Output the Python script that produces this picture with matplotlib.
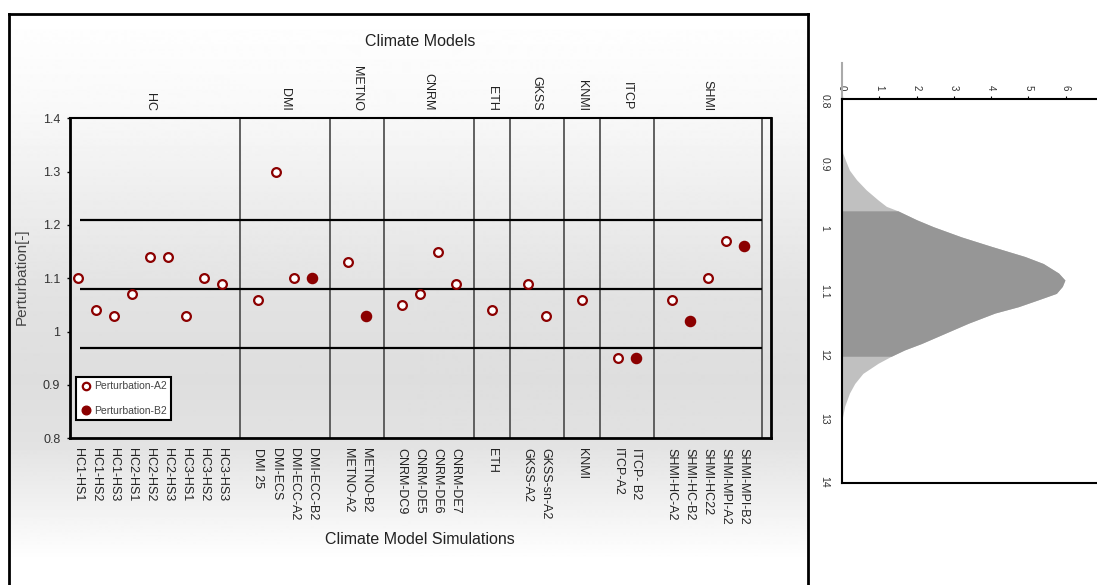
import numpy as np
import matplotlib.pyplot as plt

plt.rcParams['font.family'] = ['Liberation Sans', 'DejaVu Sans']

# =========================
# DATA
# =========================
groups = ['HC', 'DMI', 'METNO', 'CNRM', 'ETH', 'GKSS', 'KNMI', 'ITCP', 'SHMI']
group_sizes = [9, 4, 2, 4, 1, 2, 1, 2, 5]

simulations = [
    'HC1-HS1', 'HC1-HS2', 'HC1-HS3', 'HC2-HS1', 'HC2-HS2', 'HC2-HS3',
    'HC3-HS1', 'HC3-HS2', 'HC3-HS3',
    'DMI 25', 'DMI-ECS', 'DMI-ECC-A2', 'DMI-ECC-B2',
    'METNO-A2', 'METNO-B2',
    'CNRM-DC9', 'CNRM-DE5', 'CNRM-DE6', 'CNRM-DE7',
    'ETH',
    'GKSS-A2', 'GKSS-sn-A2',
    'KNMI',
    'ITCP-A2', 'ITCP- B2',
    'SHMI-HC-A2', 'SHMI-HC-B2', 'SHMI-HC22', 'SHMI-MPI-A2', 'SHMI-MPI-B2',
]
perturbation = [
    1.10, 1.04, 1.03, 1.07, 1.14, 1.14, 1.03, 1.10, 1.09,
    1.06, 1.30, 1.10, 1.10,
    1.13, 1.03,
    1.05, 1.07, 1.15, 1.09,
    1.04,
    1.09, 1.03,
    1.06,
    0.95, 0.95,
    1.06, 1.02, 1.10, 1.17, 1.16,
]
scenario = [
    'A2', 'A2', 'A2', 'A2', 'A2', 'A2', 'A2', 'A2', 'A2',
    'A2', 'A2', 'A2', 'B2',
    'A2', 'B2',
    'A2', 'A2', 'A2', 'A2',
    'A2',
    'A2', 'A2',
    'A2',
    'A2', 'B2',
    'A2', 'B2', 'A2', 'A2', 'B2',
]

ref_levels = [0.97, 1.08, 1.21]

# densidade (painel da direita)
dens_x = [0.800, 0.861, 0.882, 0.893, 0.909, 0.924, 0.940, 0.956, 0.966, 0.973,
          0.987, 0.998, 1.014, 1.029, 1.045, 1.056, 1.071, 1.082, 1.092, 1.103,
          1.113, 1.124, 1.134, 1.150, 1.166, 1.182, 1.192, 1.202, 1.213, 1.229,
          1.245, 1.260, 1.281, 1.302, 1.400]
dens_y = [0, 0, 0.02, 0.09, 0.2, 0.39, 0.65, 0.97, 1.19, 1.5,
          2.0, 2.45, 3.2, 4.01, 4.91, 5.40, 5.81, 5.98, 5.91, 5.75,
          5.27, 4.73, 4.1, 3.39, 2.76, 2.13, 1.68, 1.32, 0.97, 0.56,
          0.34, 0.2, 0.07, 0, 0]
band = (0.973, 1.202)

y_ticks = [0.8, 0.9, 1.0, 1.1, 1.2, 1.3, 1.4]
dens_ticks = [0, 1, 2, 3, 4, 5, 6]
dens_y_ticks = [0.8, 0.9, 1.0, 1.1, 1.2, 1.3, 1.4]
dens_y_labels = ['0.8', '0.9', '1', '1.1', '12', '13', '14']

# =========================
# LAYOUT
# =========================
W, H = 1097, 585
def fx(px):
    return px / W
def fy(py):
    return 1 - py / H

fig = plt.figure(figsize=(W / 100, H / 100), dpi=100)

# fundo com gradiente dentro da moldura
bg = fig.add_axes([fx(9), 0, fx(808) - fx(9), 1 - 14 / H], zorder=-10)
rows = np.arange(14, H + 1)
grad = np.interp(rows, [14, 110, 200, 300, 380, 440, 500, 560, H],
                 [1.0, 0.975, 0.93, 0.885, 0.87, 0.885, 0.94, 1.0, 1.0])
bg.imshow(grad[:, None], aspect='auto', cmap='gray', vmin=0, vmax=1,
          extent=[0, 1, 0, 1])
bg.set_xticks([])
bg.set_yticks([])
bg.spines['bottom'].set_visible(False)
for s in ['top', 'left', 'right']:
    bg.spines[s].set_linewidth(2)

# posições: um espaço vazio entre grupos
pos = []
centres = []
separators = []
s = 0
for n in group_sizes:
    block = list(range(s, s + n))
    pos += block
    centres.append(np.mean(block))
    separators.append(s + n)
    s += n + 1
pos = np.array(pos)
perturbation = np.array(perturbation)
scenario = np.array(scenario)

ax = fig.add_axes([fx(70), fy(438.3), fx(771) - fx(70), 320 / H])
ax.patch.set_alpha(0)
ax.set_xlim(-0.43, 38.52)
ax.set_ylim(0.8, 1.4)

ax.vlines(separators, 0.8, 1.4, colors='#555555', lw=1.3, zorder=1)
ax.hlines(ref_levels, 0.13, separators[-1], colors='black', lw=1.6, zorder=1)

a2 = scenario == 'A2'
ax.plot(pos[a2], perturbation[a2], 'o', ms=6.3, mfc='white', mec='#8b0000',
        mew=1.6, ls='none', label='Perturbation-A2', zorder=3)
ax.plot(pos[~a2], perturbation[~a2], 'o', ms=7.3, color='#8b0000',
        ls='none', label='Perturbation-B2', zorder=3)

ax.set_xticks(pos)
ax.set_xticklabels(simulations, rotation=-90, fontsize=9, color='#222222')
ax.tick_params(axis='x', length=0, pad=7)
ax.set_yticks(y_ticks)
ax.set_yticklabels([f'{v:g}' for v in y_ticks], fontsize=9, color='#333333')
ax.tick_params(axis='y', length=2, width=1, pad=5)

for s in ['left', 'bottom', 'right']:
    ax.spines[s].set_linewidth(2)
ax.spines['top'].set_linewidth(1.5)

for g, c in zip(groups, centres):
    ax.text(c, 1.414, g, rotation=-90, ha='center', va='bottom',
            fontsize=9, color='#222222', clip_on=False)

leg = ax.legend(loc='lower left', bbox_to_anchor=(0.0086, 0.057),
                fontsize=7.5, handlelength=1.2, handletextpad=0.1,
                labelspacing=1.4, borderpad=0.4, borderaxespad=0,
                markerscale=0.85, fancybox=False, framealpha=1,
                edgecolor='black')
leg.get_frame().set_linewidth(1.5)
for t in leg.get_texts():
    t.set_color('#444444')

fig.text(fx(420), fy(41), 'Climate Models', ha='center', va='center',
         fontsize=11.5, color='#222222')
fig.text(fx(420), fy(539), 'Climate Model Simulations', ha='center',
         va='center', fontsize=11.5, color='#222222')
fig.text(fx(22), fy(277), 'Perturbation[-]', ha='center', va='center',
         rotation=90, fontsize=11, color='#444444')

# =========================
# PAINEL DA DENSIDADE
# =========================
ax2 = fig.add_axes([fx(842), fy(483), fx(1100) - fx(842), (483 - 99) / H])
ax2.set_xlim(0, (1100 - 842) / 37.28)
ax2.set_ylim(1.4016, 0.7969)

dx = np.array(dens_x)
dy = np.array(dens_y)
ax2.fill_betweenx(dx, 0, dy, color='#c0c0c0', lw=0)
m = (dx >= band[0]) & (dx <= band[1])
ax2.fill_betweenx(dx[m], 0, dy[m], color='#969696', lw=0)

ax2.spines['right'].set_visible(False)
for s in ['top', 'left', 'bottom']:
    ax2.spines[s].set_linewidth(1.5)
ax2.axvline(0, ymin=1, ymax=1.094, color='#aaaaaa', lw=1.5, clip_on=False)

ax2.xaxis.tick_top()
ax2.set_xticks(dens_ticks)
ax2.set_xticklabels([str(v) for v in dens_ticks], rotation=-90, fontsize=7,
                    color='#333333')
ax2.tick_params(axis='x', length=2, pad=4)
ax2.set_yticks(dens_y_ticks)
ax2.set_yticklabels(dens_y_labels, rotation=-90, fontsize=7.5,
                    color='#333333', va='center')
ax2.tick_params(axis='y', length=0, pad=9)

fig.savefig('out.png', dpi=100)
